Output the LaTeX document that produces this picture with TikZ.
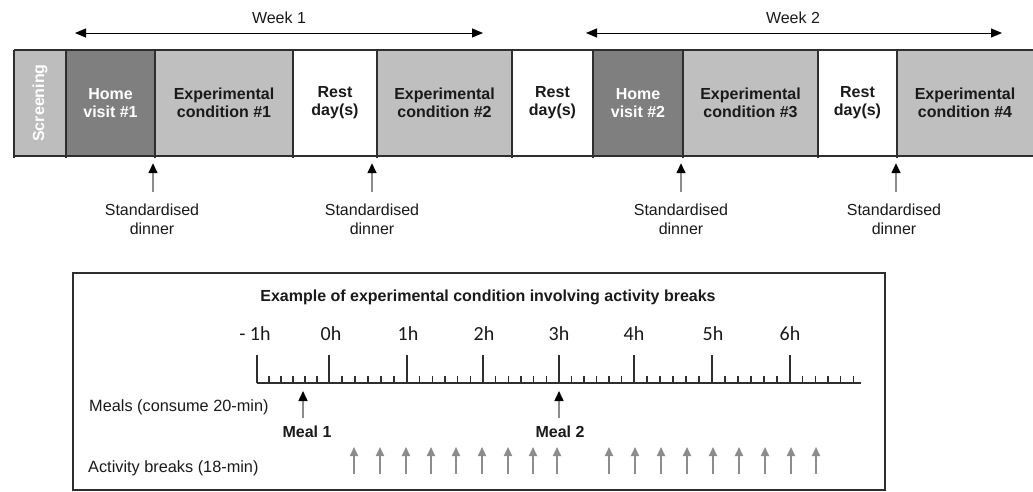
\documentclass[tikz,border=0pt]{standalone}
\usepackage{fontspec}
\setmainfont{Liberation Sans}
\newfontfamily\calib{Carlito}
\usetikzlibrary{arrows.meta}
\definecolor{dk}{HTML}{7F7F7F}
\definecolor{lt}{HTML}{BFBFBF}
\definecolor{scr}{HTML}{BDBDBD}
\definecolor{ln}{HTML}{2E2E2E}
\definecolor{txt}{HTML}{1A1A1A}
\definecolor{arr}{HTML}{8C8C8C}
\begin{document}
\begin{tikzpicture}[x=1pt,y=-1pt,
  seg/.style={inner sep=0pt, minimum height=106pt, align=center,
    font=\fontsize{16}{18}\selectfont\bfseries, text=txt},
  barline/.style={draw=ln, line width=1.6pt},
  lab/.style={font=\fontsize{16}{19}\selectfont, text=txt, align=center, inner sep=0pt},
  llab/.style={font=\fontsize{16.3}{19}\selectfont, text=txt, inner sep=0pt},
  blab/.style={font=\fontsize{16}{18}\selectfont\bfseries, text=txt, inner sep=0pt},
  hour/.style={font=\calib\fontsize{20}{20}\selectfont, text=txt, inner sep=0pt},
  weekarrow/.style={draw=black, line width=1pt, {Triangle[length=11pt,width=9pt]}-{Triangle[length=11pt,width=9pt]}},
  dinarrow/.style={draw=arr, line width=1.5pt, -{Triangle[length=10pt,width=9pt,color=black]}},
  actarrow/.style={draw=arr, line width=2pt, -{Triangle[length=9pt,width=8pt]}},
  tick/.style={draw=ln, line width=1.2pt}
]
\useasboundingbox (0,0) rectangle (1033,491);
\fill[white] (0,0) rectangle (1033,491);

% ---- top bar
\node[seg, fill=scr, minimum width=52pt] (scr) at (40,103) {};
\node[font=\fontsize{16}{18}\selectfont\bfseries, text=white, rotate=90, inner sep=0pt] (scrt) at (scr.center) {Screening};
\node[seg, fill=dk, minimum width=89pt, text=white] (home1) at (110.5,103) {Home\\visit \#1};
\node[seg, fill=lt, minimum width=138pt] (exp1) at (224,103) {Experimental\\condition \#1};
\node[seg, fill=white, minimum width=84pt] (rest1) at (335,103) {Rest\\day(s)};
\node[seg, fill=lt, minimum width=135pt] (exp2) at (444.5,103) {Experimental\\condition \#2};
\node[seg, fill=white, minimum width=81pt] (rest2) at (552.5,103) {Rest\\day(s)};
\node[seg, fill=dk, minimum width=90pt, text=white] (home2) at (638,103) {Home\\visit \#2};
\node[seg, fill=lt, minimum width=135pt] (exp3) at (750.5,103) {Experimental\\condition \#3};
\node[seg, fill=white, minimum width=79pt] (rest3) at (857.5,103) {Rest\\day(s)};
\node[seg, fill=lt, minimum width=136pt] (exp4) at (965,103) {Experimental\\condition \#4};

\draw[barline] (scr.north west) -- (exp4.north east);
\draw[barline] (scr.south west) -- (exp4.south east);
\foreach \n in {scr,home1,exp1,rest1,exp2,rest2,home2,exp3,rest3,exp4}
  \draw[barline] (\n.north west) -- ([yshift=-2pt]\n.south west);

% ---- weeks
\node[lab] (w1) at (279,18) {Week 1};
\coordinate (w1l) at (75,33);
\coordinate (w1r) at (483,33);
\draw[weekarrow] (w1l) -- (w1r);
\node[lab] (w2) at (793,18) {Week 2};
\coordinate (w2l) at (586,33);
\coordinate (w2r) at (1002,33);
\draw[weekarrow] (w2l) -- (w2r);

% ---- standardised dinners
\node[lab] (d1) at (152,219.5) {Standardised\\dinner};
\node[lab] (d2) at (372,219.5) {Standardised\\dinner};
\node[lab] (d3) at (681,219.5) {Standardised\\dinner};
\node[lab] (d4) at (894,219.5) {Standardised\\dinner};
\coordinate (a1) at (153,192);
\coordinate (a2) at (372,192);
\coordinate (a3) at (681,192);
\coordinate (a4) at (896,192);
\foreach \a in {a1,a2,a3,a4}
  \draw[dinarrow, shorten >=7pt] (\a) -- (\a |- home1.south);

% ---- bottom box
\node[draw=ln, line width=2.2pt, minimum width=812pt, minimum height=217pt, inner sep=0pt] (box) at (479,381.5) {};
\node[blab] (title) at (488,297) {Example of experimental condition involving activity breaks};

% axis
\coordinate (ax0) at (257,383);
\coordinate (ax1) at (861,383);
\draw[tick] (ax0) -- (ax1);
\foreach \p in {257,329,407,483,559,634,712,790}
  \draw[tick] (\p,383) -- (\p,355);
\foreach \a/\b in {257/329,329/407,407/483,483/559,559/634,634/712,712/790,790/866}
  \foreach \j in {1,...,5}
    \draw[tick] ({\a+(\b-\a)*\j/6},383) -- ({\a+(\b-\a)*\j/6},376);

\node[hour] (hm1) at (255,334) {- 1h};
\node[hour] (h0) at (331,334) {0h};
\node[hour] (h1) at (408,334) {1h};
\node[hour] (h2) at (484,334) {2h};
\node[hour] (h3) at (559,334) {3h};
\node[hour] (h4) at (634,334) {4h};
\node[hour] (h5) at (713,334) {5h};
\node[hour] (h6) at (790,334) {6h};

% meals
\node[llab, anchor=west] (meals) at (89,407) {Meals (consume 20-min)};
\node[blab] (m1) at (307,432) {Meal 1};
\node[blab] (m2) at (560,432) {Meal 2};
\coordinate (m1b) at (303,418);
\coordinate (m2b) at (559,418);
\draw[dinarrow, shorten >=8pt] (m1b) -- (m1b |- ax0);
\draw[dinarrow, shorten >=8pt] (m2b) -- (m2b |- ax0);

% activity breaks
\node[llab, anchor=west] (act) at (88,468) {Activity breaks (18-min)};
\foreach \x [count=\i] in {354,380,406,431,456,482,508,533,557,609,635,661,687,713,739,765,791,816}{
  \coordinate (ab\i) at (\x,474);
  \coordinate (at\i) at (\x,447);
  \draw[actarrow] (ab\i) -- (at\i);
}
\end{tikzpicture}
\end{document}
